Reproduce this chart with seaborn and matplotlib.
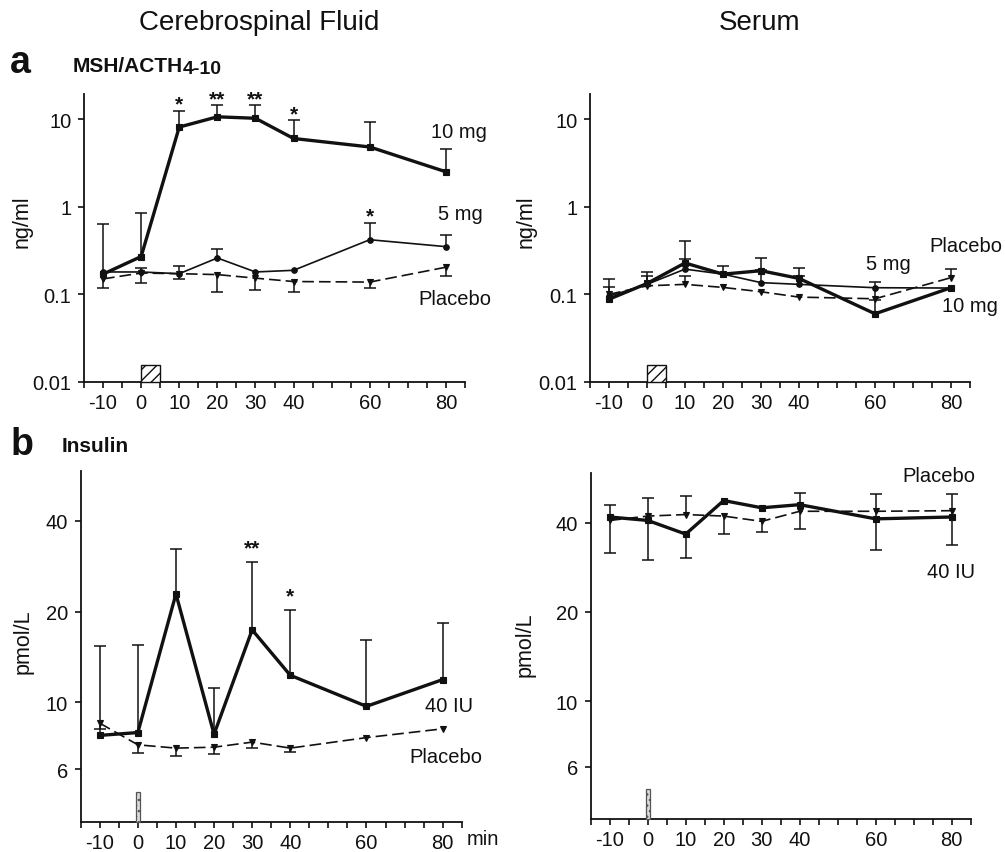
import numpy as np
import matplotlib
matplotlib.use("Agg")
import matplotlib.pyplot as plt
import seaborn as sns
from matplotlib.patches import Rectangle
from matplotlib.ticker import NullLocator

nan = np.nan

# ---------------- data ----------------
minutes = [-10, 0, 10, 20, 30, 40, 60, 80]
x_tick_labels = ["-10", "0", "10", "20", "30", "40", "60", "80"]

# (a) MSH/ACTH4-10 - cerebrospinal fluid (ng/ml)
csf_msh_10mg = [0.17, 0.27, 8.1, 10.6, 10.2, 6.0, 4.8, 2.5]
csf_msh_10mg_hi = [0.64, 0.85, 12.5, 14.3, 14.5, 9.8, 9.2, 4.6]
csf_msh_5mg = [0.18, 0.18, 0.172, 0.26, 0.18, 0.188, 0.42, 0.35]
csf_msh_5mg_hi = [nan, 0.20, 0.21, 0.33, nan, nan, 0.66, 0.48]
csf_msh_plac = [0.15, 0.175, 0.172, 0.168, 0.153, 0.14, 0.138, 0.204]
csf_msh_plac_lo = [0.119, 0.134, 0.151, 0.105, 0.112, 0.107, 0.117, 0.164]
csf_msh_stars = ["", "", "*", "**", "**", "*", "", ""]
csf_msh_5mg_stars = ["", "", "", "", "", "", "*", ""]

# (a) MSH/ACTH4-10 - serum (ng/ml)
ser_msh_10mg = [0.088, 0.133, 0.228, 0.17, 0.186, 0.152, 0.060, 0.119]
ser_msh_10mg_hi = [0.15, 0.18, 0.41, 0.21, 0.26, 0.20, 0.14, nan]
ser_msh_5mg = [0.095, 0.13, 0.194, 0.17, 0.136, 0.13, 0.119, 0.118]
ser_msh_5mg_hi = [0.12, 0.16, 0.25, nan, 0.19, 0.16, nan, nan]
ser_msh_plac = [0.10, 0.125, 0.13, 0.12, 0.107, 0.093, 0.089, 0.155]
ser_msh_plac_hi = [nan, nan, 0.16, nan, nan, nan, nan, 0.196]
ser_msh_plac_lo = [nan, nan, nan, nan, nan, nan, 0.087, nan]

# (b) Insulin - cerebrospinal fluid (pmol/L)
csf_ins_40iu = [7.77, 7.94, 22.9, 7.84, 17.4, 12.3, 9.7, 11.9]
csf_ins_40iu_hi = [15.4, 15.5, 32.2, 11.2, 29.3, 20.3, 16.1, 18.4]
csf_ins_plac = [8.53, 7.23, 7.05, 7.10, 7.38, 7.05, 7.64, 8.17]
csf_ins_plac_lo = [8.15, 6.80, 6.65, 6.75, 7.07, 6.85, nan, nan]
csf_ins_stars = ["", "", "", "", "**", "*", "", ""]

# (b) Insulin - serum (pmol/L)
ser_ins_40iu = [41.8, 40.7, 36.6, 47.5, 44.9, 46.0, 41.2, 41.8]
ser_ins_40iu_hi = [46.0, 48.6, nan, nan, nan, 50.3, 50.1, 49.8]
ser_ins_40iu_lo = [31.7, 29.9, 30.5, nan, nan, 38.0, 32.4, 33.5]
ser_ins_plac = [40.7, 42.1, 42.6, 42.1, 40.4, 43.7, 43.7, 43.9]
ser_ins_plac_hi = [nan, nan, 49.2, nan, nan, nan, nan, nan]
ser_ins_plac_lo = [nan, nan, nan, 36.7, 37.2, nan, nan, nan]

msh_yticks = [0.01, 0.1, 1, 10]
msh_ytick_labels = ["0.01", "0.1", "1", "10"]
ins_yticks = [6, 10, 20, 40]
ins_ytick_labels = ["6", "10", "20", "40"]

# ---------------- style ----------------
sns.set_style("ticks")
plt.rcParams["font.family"] = ["Liberation Sans", "DejaVu Sans"]
plt.rcParams["hatch.linewidth"] = 1.0
INK = "#111111"

W, H = 1005, 853
fig = plt.figure(figsize=(W / 100, H / 100), dpi=100)


def px_axes(left, top, right, bottom):
    return fig.add_axes([left / W, 1 - bottom / H, (right - left) / W, (bottom - top) / H])


def ftext(x, y, s, **kw):
    return fig.text(x / W, 1 - y / H, s, **kw)


def style_axes(ax, yticks, ylabels, ylim, ylabel, label_xy):
    ax.set_yscale("log")
    ax.set_xlim(-15, 85)
    ax.set_ylim(*ylim)
    xt = list(range(-15, 90, 5))
    ax.set_xticks(xt)
    ax.set_xticklabels([x_tick_labels[minutes.index(t)] if t in minutes else "" for t in xt])
    ax.set_yticks(yticks)
    ax.set_yticklabels(ylabels)
    ax.yaxis.set_minor_locator(NullLocator())
    ax.tick_params(axis="both", direction="out", length=4, width=1.2, colors=INK,
                   labelsize=14.5, pad=4)
    ax.tick_params(axis="y", pad=5)
    sns.despine(ax=ax)
    for s in ("left", "bottom"):
        ax.spines[s].set_linewidth(1.3)
        ax.spines[s].set_color(INK)
    ax.set_ylabel(ylabel, fontsize=15.5, color=INK)
    ax.yaxis.set_label_coords(*label_xy)
    ax.set_xlabel("")
    ax.set_facecolor("white")


def series(ax, y, lw, ls, marker, ms):
    sns.lineplot(x=minutes, y=y, ax=ax, color=INK, linewidth=lw, linestyle=ls,
                 marker=marker, markersize=ms, markeredgecolor=INK, markeredgewidth=0.8,
                 errorbar=None, sort=False, legend=False, zorder=3)


def errs(ax, y, hi=None, lo=None):
    y = np.asarray(y, float)
    xs = np.asarray(minutes, float)
    for lim, side in ((hi, "up"), (lo, "down")):
        if lim is None:
            continue
        lim = np.asarray(lim, float)
        m = np.isfinite(lim)
        if not m.any():
            continue
        d = np.abs(lim[m] - y[m])
        z = np.zeros_like(d)
        yerr = [z, d] if side == "up" else [d, z]
        eb = ax.errorbar(xs[m], y[m], yerr=yerr, fmt="none", ecolor=INK,
                         elinewidth=1.1, capsize=4, capthick=1.1, zorder=2)
        caps = eb[1]
        if len(caps) == 2:
            caps[0 if side == "up" else 1].set_visible(False)


def stars(ax, marks, tops, offset_pt):
    for xv, s, t in zip(minutes, marks, tops):
        if s:
            ax.annotate(s, xy=(xv, t), xytext=(0, offset_pt), textcoords="offset points",
                        ha="center", va="baseline", fontsize=15, fontweight="bold",
                        color=INK, annotation_clip=False)


# ---------------- panel a, CSF ----------------
ax1 = px_axes(84, 95, 465, 383)
series(ax1, csf_msh_plac, 1.2, (0, (7, 3)), "v", 4)
series(ax1, csf_msh_5mg, 1.2, "-", "o", 4)
series(ax1, csf_msh_10mg, 2.4, "-", "s", 4)
errs(ax1, csf_msh_10mg, hi=csf_msh_10mg_hi)
errs(ax1, csf_msh_5mg, hi=csf_msh_5mg_hi)
errs(ax1, csf_msh_plac, lo=csf_msh_plac_lo)
style_axes(ax1, msh_yticks, msh_ytick_labels, (0.01, 19.3), "ng/ml", (-0.134, 0.56))
stars(ax1, csf_msh_stars, csf_msh_10mg_hi, 0.5)
stars(ax1, csf_msh_5mg_stars, csf_msh_5mg_hi, 0.5)
ax1.add_patch(Rectangle((0, 0.01), 5, 0.0058, facecolor="white", edgecolor=INK,
                        hatch="///", lw=1.0, clip_on=False, zorder=4))

# ---------------- panel a, serum ----------------
ax2 = px_axes(590, 95, 970, 383)
series(ax2, ser_msh_plac, 1.2, (0, (7, 3)), "v", 4)
series(ax2, ser_msh_5mg, 1.2, "-", "o", 4)
series(ax2, ser_msh_10mg, 2.4, "-", "s", 4)
errs(ax2, ser_msh_10mg, hi=ser_msh_10mg_hi)
errs(ax2, ser_msh_5mg, hi=ser_msh_5mg_hi)
errs(ax2, ser_msh_plac, hi=ser_msh_plac_hi, lo=ser_msh_plac_lo)
style_axes(ax2, msh_yticks, msh_ytick_labels, (0.01, 19.3), "ng/ml", (-0.14, 0.56))
ax2.add_patch(Rectangle((0, 0.01), 5, 0.0058, facecolor="white", edgecolor=INK,
                        hatch="///", lw=1.0, clip_on=False, zorder=4))

# ---------------- panel b, CSF ----------------
ax3 = px_axes(80.7, 471.7, 461.7, 823.3)
series(ax3, csf_ins_plac, 1.2, (0, (7, 3)), "v", 4.5)
series(ax3, csf_ins_40iu, 2.4, "-", "s", 4)
errs(ax3, csf_ins_40iu, hi=csf_ins_40iu_hi)
errs(ax3, csf_ins_plac, lo=csf_ins_plac_lo)
style_axes(ax3, ins_yticks, ins_ytick_labels, (4.0, 58.7), "pmol/L", (-0.125, 0.516))
stars(ax3, csf_ins_stars, csf_ins_40iu_hi, 6)
ax3.add_patch(Rectangle((-0.5, 4.0), 1.0, 1.04, facecolor="#dddddd", edgecolor="#555555",
                        hatch="...", lw=0.9, clip_on=False, zorder=4))

# ---------------- panel b, serum ----------------
ax4 = px_axes(590.7, 474.3, 970.7, 820)
series(ax4, ser_ins_plac, 1.2, (0, (7, 3)), "v", 4.5)
series(ax4, ser_ins_40iu, 2.4, "-", "s", 4)
errs(ax4, ser_ins_40iu, hi=ser_ins_40iu_hi, lo=ser_ins_40iu_lo)
errs(ax4, ser_ins_plac, hi=ser_ins_plac_hi, lo=ser_ins_plac_lo)
style_axes(ax4, ins_yticks, ins_ytick_labels, (4.0, 58.7), "pmol/L", (-0.145, 0.506))
ax4.add_patch(Rectangle((-0.5, 4.0), 1.0, 1.04, facecolor="#dddddd", edgecolor="#555555",
                        hatch="...", lw=0.9, clip_on=False, zorder=4))

# ---------------- texts ----------------
tk = dict(fontsize=14.5, color=INK, va="center")
ftext(259, 23, "Cerebrospinal Fluid", fontsize=20, ha="center", va="center", color=INK)
ftext(760, 23, "Serum", fontsize=20, ha="center", va="center", color=INK)
ftext(20, 63, "a", fontsize=27, fontweight="bold", ha="center", va="center", color=INK)
t_msh = ftext(73, 66, "MSH/ACTH", fontsize=15, fontweight="bold", ha="left",
              va="center", color=INK)
fig.add_artist(matplotlib.text.Annotation(
    "4-10", xy=(1, 0.5), xycoords=t_msh, xytext=(0, -2.5), textcoords="offset points",
    ha="left", va="center", fontsize=14, fontweight="bold", color=INK,
    annotation_clip=False))
ftext(22, 445, "b", fontsize=27, fontweight="bold", ha="center", va="center", color=INK)
ftext(62, 447, "Insulin", fontsize=15, fontweight="bold", ha="left", va="center", color=INK)

ftext(487, 132, "10 mg", ha="right", **tk)
ftext(483, 215, "5 mg", ha="right", **tk)
ftext(491, 300, "Placebo", ha="right", **tk)

ftext(1002, 247, "Placebo", ha="right", **tk)
ftext(888, 265, "5 mg", ha="center", **tk)
ftext(998, 307, "10 mg", ha="right", **tk)

ftext(473, 707, "40 IU", ha="right", **tk)
ftext(482, 758, "Placebo", ha="right", **tk)
ftext(467, 840, "min", ha="left", **tk)

ftext(975, 477, "Placebo", ha="right", **tk)
ftext(975, 573, "40 IU", ha="right", **tk)

fig.savefig("out.png", dpi=100, facecolor="white")
